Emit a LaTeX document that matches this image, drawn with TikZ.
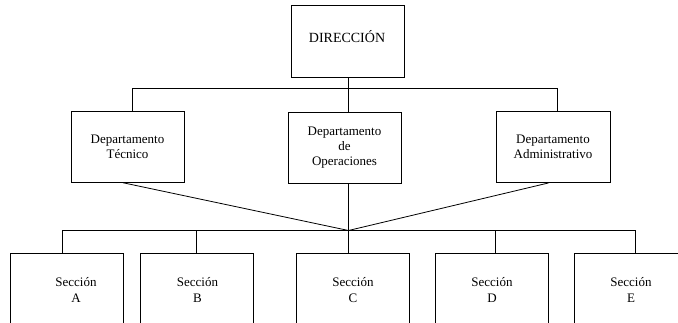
\documentclass[tikz,border=0pt]{standalone}
\usepackage{fontspec}
\setmainfont{Liberation Serif}
\begin{document}
\begin{tikzpicture}[x=1pt,y=-1pt,
  box/.style={draw, line width=0.9pt, rectangle, inner sep=0pt,
    minimum width=113pt, align=center, font=\fontsize{13}{15}\selectfont},
  lbl/.style={inner sep=0pt, align=center, font=\fontsize{13}{15.3}\selectfont},
  link/.style={line width=0.8pt}]
\useasboundingbox (0,0) rectangle (678,323);
\begin{scope}
\clip (0,0) rectangle (678,323);

% top level
\node[box, minimum height=71.6pt] (dir) at (347.5,41.5) {};
\node[lbl, font=\fontsize{14}{16}\selectfont] (dirtxt) at (347,36.5) {DIRECCIÓN};

% departments
\node[box, minimum height=70.6pt] (tec) at (127.5,147) {Departamento\\Técnico};
\node[box, minimum height=71pt] (ops) at (344.5,147.5) {Departamento\\de\\Operaciones};
\node[box, minimum width=114pt, minimum height=71pt] (adm) at (553,147) {Departamento\\Administrativo};

% sections (cut off at the lower edge)
\node[box, minimum height=80pt] (secA) at (66.7,293) {};
\node[box, minimum height=80pt] (secB) at (196.8,293) {};
\node[box, minimum height=80pt] (secC) at (353,293) {};
\node[box, minimum height=80pt] (secD) at (492,293) {};
\node[box, minimum height=80pt] (secE) at (631,293) {};
\node[lbl] (tA) at (76,290) {Sección\\A};
\node[lbl] (tB) at (197.5,290) {Sección\\B};
\node[lbl] (tC) at (353,290) {Sección\\C};
\node[lbl] (tD) at (492,290) {Sección\\D};
\node[lbl] (tE) at (631,290) {Sección\\E};

% junction points
\coordinate (top) at (348.5,88.7);
\coordinate (jn) at (348.5,230.5);

% upper connectors
\draw[link] (dir.south -| top) -- (ops.north -| top);
\draw[link] ([xshift=4.5pt]tec.north) |- (top) -| ([xshift=4pt]adm.north);

% lower connectors
\draw[link] (ops.south -| jn) -- (secC.north -| jn);
\draw[link] ([xshift=-4.5pt]tec.south) -- (jn) -- ([xshift=-4.5pt]adm.south);
\draw[link] ([xshift=-4pt]secA.north) |- (jn) -| ([xshift=4pt]secE.north);
\draw[link] (secB.north) -- (secB.north |- jn);
\draw[link] ([xshift=3.3pt]secD.north) -- ([xshift=3.3pt]secD.north |- jn);
\end{scope}
\end{tikzpicture}
\end{document}
